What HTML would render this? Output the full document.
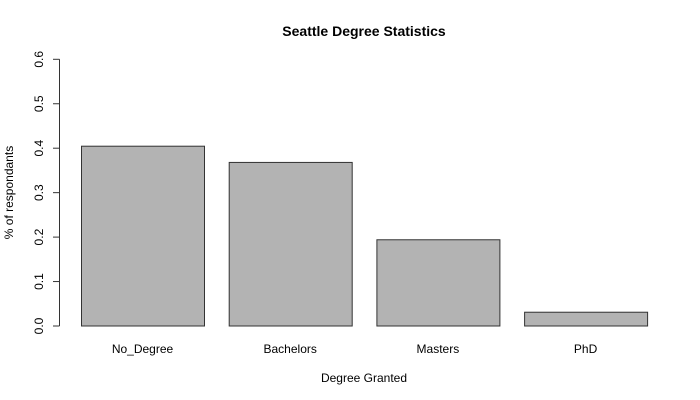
<!DOCTYPE html>
<html><head><meta charset="utf-8"><style>
html,body{margin:0;padding:0;background:#fff;}
svg{display:block;font-family:"Liberation Sans",Arial,sans-serif;}
</style></head><body>
<svg id="chart" width="700" height="400">
<text x="364" y="36" text-anchor="middle" font-size="14" font-weight="bold">Seattle Degree Statistics</text>
<text x="364" y="382" text-anchor="middle" font-size="12">Degree Granted</text>
<text transform="translate(13,192.5) rotate(-90)" text-anchor="middle" font-size="12">% of respondants</text>
<g id="bars"></g>
<g id="yaxis"></g>
<g id="xlabels"></g>
</svg>
<script>
const categories = ["No_Degree","Bachelors","Masters","PhD"];
const values = [0.4045,0.368,0.194,0.031];
const yTicks = [0,0.1,0.2,0.3,0.4,0.5,0.6];
const yTickLabels = ["0.0","0.1","0.2","0.3","0.4","0.5","0.6"];

const NS="http://www.w3.org/2000/svg";
function y(v){return 326 - v/0.6*(326-59.3);}
function xLeft(i){return 81 + i*147.7;}
const barW=123;
const bars=document.getElementById('bars');
values.forEach((v,i)=>{
  const r=document.createElementNS(NS,'rect');
  r.setAttribute('x',xLeft(i)+0.5);
  r.setAttribute('y',y(v));
  r.setAttribute('width',barW);
  r.setAttribute('height',y(0)-y(v));
  r.setAttribute('fill','#b3b3b3');
  r.setAttribute('stroke','#333');
  r.setAttribute('stroke-width','1');
  
  
  bars.appendChild(r);
});
const xl=document.getElementById('xlabels');
categories.forEach((c,i)=>{
  const t=document.createElementNS(NS,'text');
  t.setAttribute('x',xLeft(i)+barW/2);
  t.setAttribute('y',353);
  t.setAttribute('text-anchor','middle');
  t.setAttribute('font-size','12');
  t.textContent=c;
  
  
  xl.appendChild(t);
});
const ya=document.getElementById('yaxis');
const line=document.createElementNS(NS,'line');
line.setAttribute('x1',59.5);line.setAttribute('x2',59.5);
line.setAttribute('y1',y(yTicks[0]));line.setAttribute('y2',y(yTicks[yTicks.length-1]));
line.setAttribute('stroke','#333');


ya.appendChild(line);
yTicks.forEach((v,i)=>{
  const tk=document.createElementNS(NS,'line');
  tk.setAttribute('x1',53);tk.setAttribute('x2',59.5);
  tk.setAttribute('y1',y(v));tk.setAttribute('y2',y(v));
  tk.setAttribute('stroke','#333');
  
  
  ya.appendChild(tk);
  const t=document.createElementNS(NS,'text');
  t.setAttribute('transform','translate(43,'+y(v)+') rotate(-90)');
  t.setAttribute('text-anchor','middle');
  t.setAttribute('font-size','12');
  t.textContent=yTickLabels[i];
  
  
  ya.appendChild(t);
});
</script>
</body></html>
